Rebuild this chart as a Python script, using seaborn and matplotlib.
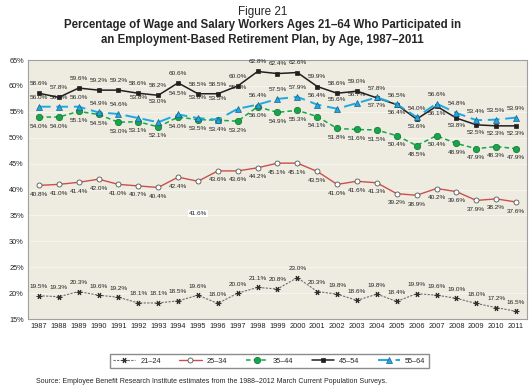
"""
Figure 21: participation in employment-based retirement plans by age, 1987-2011
"""

import pandas as pd
import matplotlib.pyplot as plt
import seaborn as sns
import numpy as np

# data
years = list(range(1987, 2012))

age_21_24 = [19.5, 19.3, 20.3, 19.6, 19.2, 18.1, 18.1, 18.5, 19.6, 18.0, 20.0, 21.1, 20.8,
             23.0, 20.3, 19.8, 18.6, 19.8, 18.4, 19.9, 19.6, 19.0, 18.0, 17.2, 16.5]
age_25_34 = [40.8, 41.0, 41.4, 42.0, 41.0, 40.7, 40.4, 42.4, 41.6, 43.6, 43.6, 44.2, 45.1,
             45.1, 43.5, 41.0, 41.6, 41.3, 39.2, 38.9, 40.2, 39.6, 37.9, 38.2, 37.6]
age_35_44 = [54.0, 54.0, 55.1, 54.5, 53.0, 53.1, 52.1, 54.0, 53.5, 53.4, 53.2, 56.0, 54.9,
             55.3, 54.1, 51.8, 51.6, 51.5, 50.4, 48.5, 50.4, 48.9, 47.9, 48.3, 47.9]
age_45_54 = [58.6, 57.8, 59.6, 59.2, 59.2, 58.6, 58.2, 60.6, 58.5, 58.5, 60.0, 62.8, 62.4,
             62.6, 59.9, 58.6, 59.0, 57.7, 56.4, 53.6, 56.1, 53.8, 52.5, 52.3, 52.3]
age_55_64 = [56.0, 56.0, 56.0, 54.9, 54.6, 53.8, 53.0, 54.5, 53.8, 53.5, 55.6, 56.4, 57.5,
             57.9, 56.4, 55.6, 56.7, 57.8, 56.5, 54.0, 56.6, 54.8, 53.4, 53.5, 53.9]

series_names = ['21–24', '25–34', '35–44', '45–54', '55–64']
series_values = [age_21_24, age_25_34, age_35_44, age_45_54, age_55_64]

y_ticks = [15, 20, 25, 30, 35, 40, 45, 50, 55, 60, 65]

# styles: colour, linestyle, linewidth, marker, size, face, edge
styles = {
    '21–24': dict(color='#6e6e6e', linestyle=(0, (2, 1.2)), linewidth=0.8,
                  marker=(6, 2, 90), markersize=4, markerfacecolor='#333333',
                  markeredgecolor='#333333', markeredgewidth=0.8),
    '25–34': dict(color='#c9504f', linestyle='-', linewidth=1.0,
                  marker='o', markersize=3.6, markerfacecolor='white',
                  markeredgecolor='#555555', markeredgewidth=0.6),
    '35–44': dict(color='#12a84a', linestyle=(0, (3, 2)), linewidth=1.1,
                  marker='o', markersize=4.6, markerfacecolor='#12a84a',
                  markeredgecolor='#1c6b31', markeredgewidth=0.5),
    '45–54': dict(color='#231f20', linestyle='-', linewidth=1.1,
                  marker='s', markersize=3.2, markerfacecolor='#231f20',
                  markeredgecolor='#231f20', markeredgewidth=0.5),
    '55–64': dict(color='#1fa9e1', linestyle=(0, (6, 3)), linewidth=1.4,
                  marker='^', markersize=4.2, markerfacecolor='#1fa9e1',
                  markeredgecolor='#1d5f8a', markeredgewidth=0.5),
}

# label offsets (points): positive = above, negative = below
label_side = {
    '21–24': [6.5] * 25,
    '25–34': [-6.5] * 25,
    '35–44': [-6.5] * 25,
    '45–54': [7] * 17 + [-5.5] * 8,
    '55–64': [6.5] * 5 + [15] * 6 + [6.5] * 14,
}

sns.set_theme(style='white')
plt.rcParams['font.family'] = ['Liberation Sans', 'DejaVu Sans']

fig = plt.figure(figsize=(5.3, 3.87), dpi=100)
ax = fig.add_axes([0.0528, 0.1757, 0.9415, 0.669])
ax.set_facecolor('#eeece1')

for yv in y_ticks[1:-1]:
    ax.axhline(yv, color='#f7f6f1', linewidth=0.6, zorder=0)

for name, vals in zip(series_names, series_values):
    sns.lineplot(x=years, y=vals, ax=ax, label=name, **styles[name])
    for i, (yr, v) in enumerate(zip(years, vals)):
        off = label_side[name][i]
        kw = {}
        if name == '25–34' and yr == 1995:
            off = -23
            kw = dict(bbox=dict(boxstyle='square,pad=0.15', fc='white', ec='none'))
        ax.annotate(f'{v:.1f}%', (yr, v), xytext=(0, off), textcoords='offset points',
                    ha='center', va='center', fontsize=4.6, color='#222222', **kw)

ax.set_xlim(1986.45, 2011.55)
ax.set_ylim(15, 65)
ax.set_xticks(years)
ax.set_xticklabels([str(y) for y in years], fontsize=5.3)
ax.set_yticks(y_ticks)
ax.set_yticklabels([f'{y}%' for y in y_ticks], fontsize=5.3)
ax.tick_params(axis='both', length=0, pad=3, colors='#222222')
ax.set_xlabel('')
ax.set_ylabel('')
for sp in ax.spines.values():
    sp.set_color('#a0a0a0')
    sp.set_linewidth(0.8)

ax.legend(loc='center', bbox_to_anchor=(0.508, 0.067), bbox_transform=fig.transFigure,
          ncol=5, fontsize=5.3, frameon=True, fancybox=False, edgecolor='#8c8c8c',
          framealpha=1, handlelength=3.0, columnspacing=2.5, borderpad=0.45,
          handletextpad=0.7)

fig.text(0.495, 0.969, 'Figure 21', ha='center', va='center', fontsize=8.4)
fig.text(0.495, 0.935, 'Percentage of Wage and Salary Workers Ages 21–64 Who Participated in',
         ha='center', va='center', fontsize=8.3, fontweight='bold')
fig.text(0.495, 0.897, 'an Employment-Based Retirement Plan, by Age, 1987–2011',
         ha='center', va='center', fontsize=8.3, fontweight='bold')
fig.text(0.068, 0.013, 'Source: Employee Benefit Research Institute estimates from the '
         '1988–2012 March Current Population Surveys.', ha='left', va='center', fontsize=5)

plt.savefig('out.png', dpi=100, facecolor='white')
